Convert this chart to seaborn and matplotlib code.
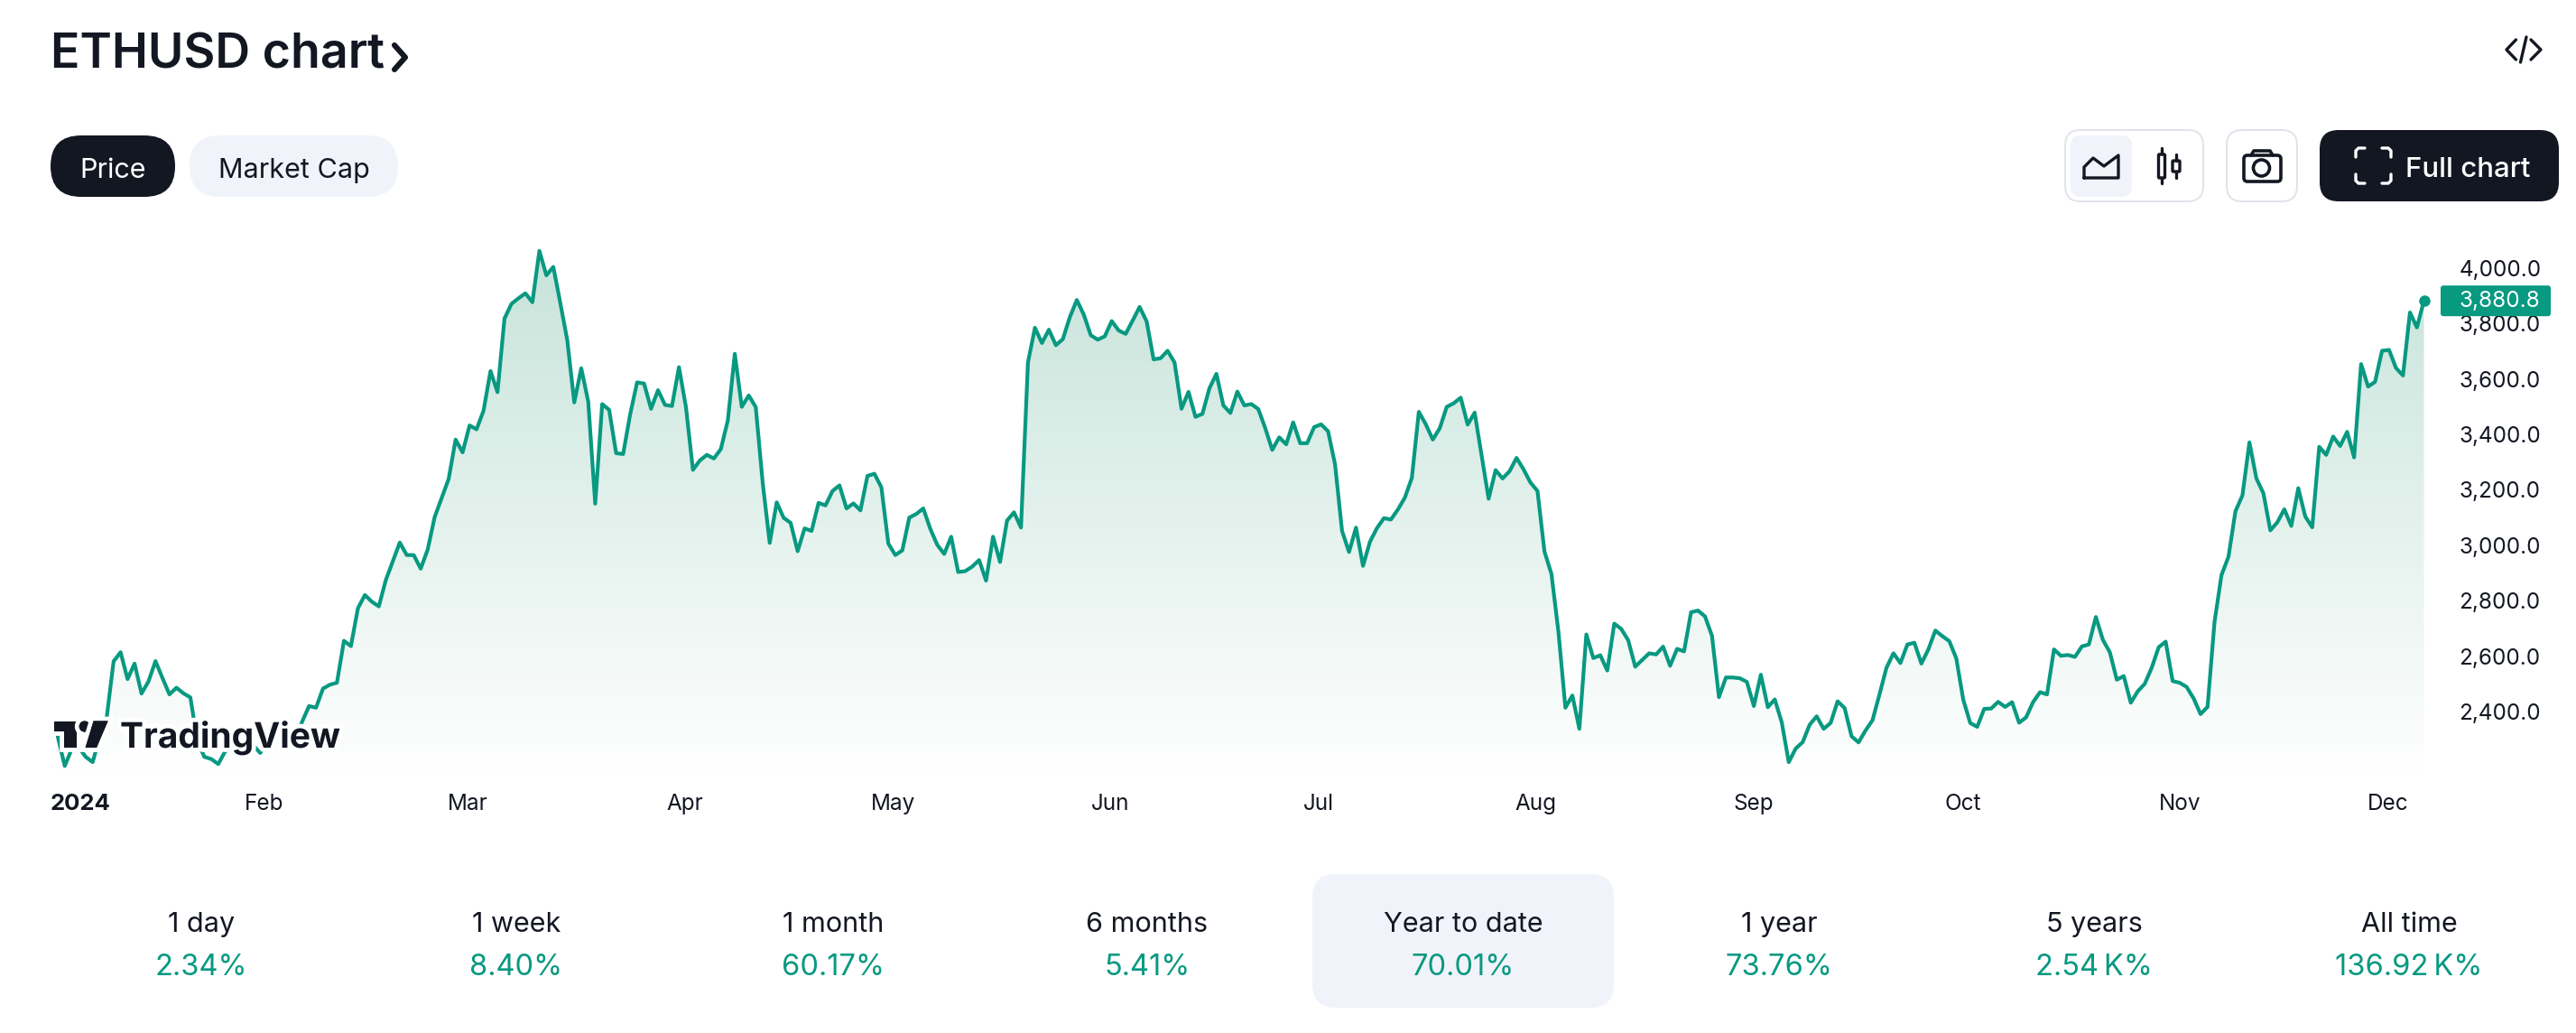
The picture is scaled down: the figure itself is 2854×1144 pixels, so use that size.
import numpy as np
import pandas as pd
import matplotlib
matplotlib.use("Agg")
import matplotlib.pyplot as plt
import matplotlib.patheffects as pe
from matplotlib.colors import LinearSegmentedColormap
from matplotlib.patches import FancyBboxPatch, Polygon, Circle, Ellipse, PathPatch
import seaborn as sns

# daily close
prices = [
    2311, 2205, 2266, 2273, 2238, 2219, 2308, 2378, 2582, 2615, 2518, 2574, 2466, 2510, 2583, 2522,
    2463, 2487, 2467, 2452, 2294, 2238, 2230, 2212, 2259, 2266, 2294, 2294, 2280, 2252, 2287, 2301,
    2308, 2322, 2308, 2364, 2421, 2415, 2484, 2498, 2505, 2656, 2637, 2773, 2821, 2797, 2780, 2875,
    2943, 3010, 2965, 2965, 2916, 2985, 3102, 3171, 3239, 3381, 3335, 3432, 3418, 3485, 3628, 3552,
    3817, 3870, 3890, 3908, 3876, 4061, 3973, 4003, 3873, 3739, 3515, 3638, 3518, 3150, 3509, 3488,
    3332, 3329, 3471, 3587, 3583, 3492, 3559, 3506, 3502, 3642, 3498, 3272, 3306, 3326, 3313, 3347,
    3450, 3690, 3499, 3540, 3498, 3224, 3009, 3155, 3099, 3081, 2979, 3061, 3052, 3153, 3144, 3196,
    3216, 3133, 3151, 3126, 3250, 3258, 3209, 3006, 2965, 2982, 3100, 3113, 3133, 3060, 3002, 2969,
    3031, 2904, 2907, 2923, 2947, 2873, 3031, 2940, 3089, 3119, 3064, 3659, 3784, 3729, 3777, 3721,
    3743, 3822, 3884, 3831, 3757, 3741, 3753, 3808, 3774, 3762, 3810, 3859, 3807, 3670, 3674, 3701,
    3659, 3492, 3553, 3463, 3474, 3566, 3618, 3504, 3477, 3554, 3504, 3509, 3491, 3422, 3344, 3389,
    3364, 3443, 3368, 3368, 3426, 3436, 3411, 3291, 3052, 2976, 3064, 2926, 3013, 3062, 3098, 3093,
    3129, 3172, 3243, 3481, 3436, 3381, 3422, 3499, 3512, 3532, 3435, 3478, 3323, 3168, 3271, 3241,
    3267, 3315, 3274, 3226, 3196, 2978, 2897, 2689, 2415, 2459, 2339, 2679, 2594, 2604, 2549, 2718,
    2699, 2658, 2563, 2587, 2611, 2607, 2635, 2566, 2627, 2618, 2759, 2765, 2744, 2674, 2453, 2524,
    2524, 2521, 2508, 2421, 2534, 2417, 2445, 2362, 2219, 2268, 2291, 2354, 2384, 2339, 2360, 2438,
    2414, 2312, 2290, 2333, 2370, 2463, 2559, 2611, 2576, 2643, 2649, 2574, 2625, 2693, 2673, 2655,
    2593, 2444, 2360, 2346, 2411, 2412, 2436, 2418, 2435, 2361, 2380, 2435, 2471, 2463, 2625, 2602,
    2605, 2598, 2636, 2643, 2742, 2660, 2615, 2516, 2529, 2433, 2474, 2501, 2559, 2633, 2653, 2511,
    2505, 2490, 2449, 2392, 2418, 2724, 2893, 2959, 3123, 3180, 3371, 3241, 3188, 3054, 3083, 3130,
    3070, 3206, 3104, 3065, 3355, 3326, 3392, 3358, 3409, 3317, 3653, 3572, 3589, 3701, 3704, 3639,
    3612, 3839, 3785, 3880.8,
]
month_labels = ["2024", "Feb", "Mar", "Apr", "May", "Jun", "Jul", "Aug", "Sep", "Oct", "Nov", "Dec"]
month_days = [3.2, 29.6, 58.8, 89.9, 119.7, 150.8, 180.7, 211.8, 242.9, 273, 304, 333.9]
price_ticks = [2400, 2600, 2800, 3000, 3200, 3400, 3600, 3800, 4000]
period_labels = ["1 day", "1 week", "1 month", "6 months", "Year to date", "1 year", "5 years", "All time"]
period_changes = ["2.34%", "8.40%", "60.17%", "5.41%", "70.01%", "73.76%", "2.54\u202fK%", "136.92\u202fK%"]
period_centers = [223, 572, 923, 1271, 1621, 1971, 2320, 2669]

INK = "#131722"
GREEN = "#089981"
PALE = "#f0f3fa"
BORDER = "#e0e3eb"
W, H = 2854, 1144

sns.set_theme(style="white")
plt.rcParams["font.family"] = ["Inter", "DejaVu Sans"]
plt.rcParams["text.color"] = INK

df = pd.DataFrame({"day": np.arange(len(prices)), "price": prices})

fig = plt.figure(figsize=(W / 100, H / 100), dpi=100, facecolor="white")

# chart axes, placed on the pixel box of the plot area
left, right, top, bottom = 64, 2685.5, 240, 860
ax = fig.add_axes([left / W, 1 - bottom / H, (right - left) / W, (bottom - top) / H])
sns.lineplot(data=df, x="day", y="price", ax=ax, color=GREEN, linewidth=3.0, zorder=3, clip_on=False)
ax.plot(df["day"].iloc[-1], df["price"].iloc[-1], "o", color=GREEN, ms=9, mew=0, zorder=4, clip_on=False)

y_low, y_high = 2167, 4184
x_max = len(prices) - 1

# gradient under the line
band = ax.fill_between(df["day"], df["price"], y_low, color="none")
cmap = LinearSegmentedColormap.from_list("fade", ["#c6e3da", "#ffffff"])
grad = ax.imshow(np.linspace(0, 1, 256).reshape(-1, 1), extent=[0, x_max, y_low, 4090],
                 aspect="auto", cmap=cmap, zorder=1)
clip = PathPatch(band.get_paths()[0], transform=ax.transData, fc="none", ec="none")
ax.add_patch(clip)
grad.set_clip_path(clip)

ax.set_xlim(0, x_max)
ax.set_ylim(y_low, y_high)
ax.set_xlabel("")
ax.set_ylabel("")
ax.set_xticks(month_days)
ax.set_xticklabels(month_labels)
ax.set_yticks(price_ticks)
ax.set_yticklabels([f"{v:,.1f}" for v in price_ticks])
ax.yaxis.tick_right()
ax.tick_params(axis="y", length=0, pad=28, labelsize=17.5, labelcolor=INK)
ax.tick_params(axis="x", length=0, pad=14, labelsize=17.5, labelcolor=INK)
ax.get_xticklabels()[0].set_fontweight("bold")
ax.get_xticklabels()[0].set_fontsize(18.5)
sns.despine(ax=ax, left=True, bottom=True, right=True, top=True)
ax.patch.set_alpha(0)

# page furniture, drawn in pixel coordinates on top of the chart
ui = fig.add_axes([0, 0, 1, 1], zorder=5)
ui.set_xlim(0, W)
ui.set_ylim(H, 0)
ui.axis("off")
ui.patch.set_alpha(0)


def box(x0, y0, x1, y1, r, fc, ec="none", lw=0):
    ui.add_patch(FancyBboxPatch((x0 + r, y0 + r), x1 - x0 - 2 * r, y1 - y0 - 2 * r,
                                boxstyle=f"round,pad={r},rounding_size={r}", fc=fc, ec=ec, lw=lw))


def stroke(xs, ys, color=INK, lw=2.4):
    ui.plot(xs, ys, color=color, lw=lw, solid_capstyle="round", solid_joinstyle="round")


# title
ui.text(56, 76, "ETHUSD chart", fontsize=38.7, fontweight=600, va="baseline", color=INK)
stroke([437, 449, 437], [50, 63.5, 77], lw=4.4)
stroke([2787.5, 2777, 2787.5], [44, 55, 66])
stroke([2799, 2792.5], [41, 69])
stroke([2804, 2815, 2804], [44, 55, 66])

# price / market cap switch
box(56, 150, 194, 218, 34, INK)
box(210, 150, 441, 218, 34, PALE)
ui.text(125, 197, "Price", fontsize=22, color="white", ha="center", va="baseline")
ui.text(325.5, 197, "Market Cap", fontsize=22, color=INK, ha="center", va="baseline")

# chart type buttons
box(2288, 144, 2441, 223, 17, "white", BORDER, 1.4)
box(2294, 150, 2362, 218, 12, PALE)
stroke([2309, 2309, 2319, 2331, 2347, 2347, 2309], [197, 185, 175, 184, 172, 197, 197])
stroke([2395, 2395], [164, 170])
stroke([2395, 2395], [197, 203])
ui.add_patch(FancyBboxPatch((2391.5, 171), 7, 26, boxstyle="round,pad=0,rounding_size=1", fc="none", ec=INK, lw=2.4))
stroke([2411, 2411], [171, 178])
stroke([2411, 2411], [190, 197])
ui.add_patch(FancyBboxPatch((2407, 178), 8, 12, boxstyle="round,pad=0,rounding_size=1", fc="none", ec=INK, lw=2.4))

# camera button
box(2467, 144, 2545, 223, 17, "white", BORDER, 1.4)
ui.add_patch(FancyBboxPatch((2486, 172), 41, 29, boxstyle="round,pad=0,rounding_size=4", fc="none", ec=INK, lw=2.6))
stroke([2494, 2497, 2515, 2518], [172, 167, 167, 172], lw=2.6)
ui.add_patch(Ellipse((2505.5, 186), 18, 18, fc="none", ec=INK, lw=2.6))

# full chart button
box(2570, 144, 2835, 223, 21, INK)
for sx, sy, cx, cy in [(1, 1, 2610, 164), (-1, 1, 2649, 164), (1, -1, 2610, 203), (-1, -1, 2649, 203)]:
    stroke([cx, cx, cx + 3 * sx, cx + 10 * sx], [cy + 10 * sy, cy + 3 * sy, cy, cy], color="white", lw=2.4)
ui.text(2734, 196, "Full chart", fontsize=22.5, fontweight=500, color="white", ha="center", va="baseline")

# last price tag sits on the last value
tag_y = H - ax.transData.transform((0, prices[-1]))[1]
box(2704, tag_y - 17, 2826, tag_y + 17, 3, GREEN)
ui.text(2725, tag_y, f"{prices[-1]:,.1f}", fontsize=17.5, color="white", va="center")

# TradingView logo with its white halo
halo = [pe.withStroke(linewidth=7, foreground="white")]
logo_t = Polygon([(60, 798.5), (85, 798.5), (85, 828), (71.4, 828), (71.4, 810), (60, 810)], fc=INK, ec="none")
logo_dot = Circle((93.7, 804.5), 6, fc=INK, ec="none")
logo_slash = Polygon([(103.6, 798.5), (119.6, 798.5), (107, 828), (94.6, 828)], fc=INK, ec="none")
for part in (logo_t, logo_dot, logo_slash):
    ui.add_patch(part)
    part.set_path_effects(halo + [pe.Normal()])
ui.text(133, 828, "TradingView", fontsize=28, fontweight="bold", color=INK, va="baseline", path_effects=halo)

# performance row
box(1454, 968, 1788, 1116, 26, PALE)
for cx, label, change in zip(period_centers, period_labels, period_changes):
    ui.text(cx, 1031.5, label, fontsize=22, color=INK, ha="center", va="baseline")
    ui.text(cx, 1079.5, change, fontsize=23.5, color=GREEN, ha="center", va="baseline")

fig.savefig("out.png", dpi=100, facecolor="white")
